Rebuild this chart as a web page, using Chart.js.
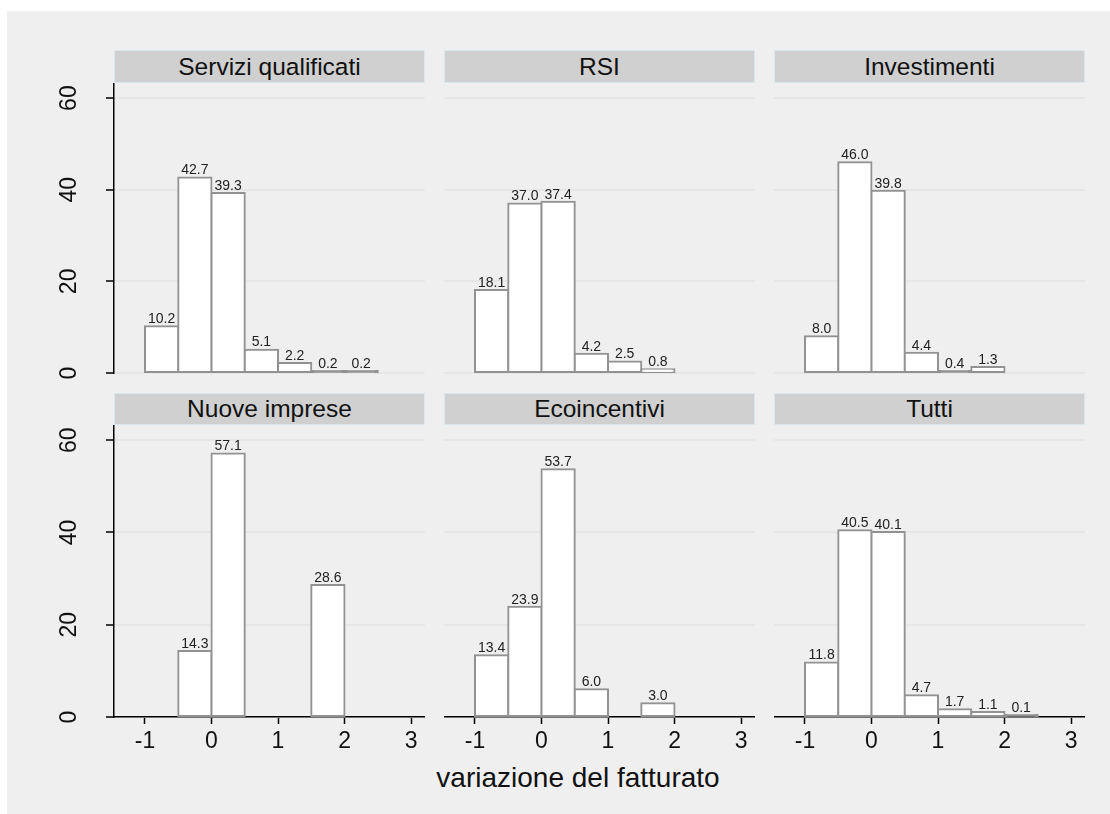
<!DOCTYPE html>
<html>
<head>
<meta charset="utf-8">
<script src="https://cdn.jsdelivr.net/npm/chart.js@4.4.1/dist/chart.umd.min.js"></script>
<style>
  html, body { margin: 0; padding: 0; background: #fff; }
  body { width: 1110px; height: 814px; position: relative; overflow: hidden; font-family: "Liberation Sans", Arial, sans-serif; }
  #bg { position: absolute; left: 7px; top: 11px; right: 0; bottom: 0; background: #efefef; }
  .head { position: absolute; box-sizing: border-box; background: #d0d0d0; border: 1px solid #d9e8ee;
          font-size: 24.5px; color: #111; text-align: center; }
  .panel { position: absolute; }
  #xtitle { position: absolute; left: 378px; width: 400px; top: 762px; text-align: center; font-size: 28px; color: #111; }
</style>
</head>
<body>
<div id="bg"></div>
<div id="xtitle">variazione del fatturato</div>
<script>
// bins (width 0.5) and the percentages shown above each bar
const binCenters = [-0.75, -0.25, 0.25, 0.75, 1.25, 1.75, 2.25];
const panelTitles = ["Servizi qualificati", "RSI", "Investimenti", "Nuove imprese", "Ecoincentivi", "Tutti"];
const serviziQualificati = [10.2, 42.7, 39.3, 5.1, 2.2, 0.2, 0.2];
const rsi = [18.1, 37.0, 37.4, 4.2, 2.5, 0.8, null];
const investimenti = [8.0, 46.0, 39.8, 4.4, 0.4, 1.3, null];
const nuoveImprese = [null, 14.3, 57.1, null, null, 28.6, null];
const ecoincentivi = [13.4, 23.9, 53.7, 6.0, null, 3.0, null];
const tutti = [11.8, 40.5, 40.1, 4.7, 1.7, 1.1, 0.1];
const xTicks = [-1, 0, 1, 2, 3];
const yTicks = [0, 20, 40, 60];

const panelValues = [serviziQualificati, rsi, investimenti, nuoveImprese, ecoincentivi, tutti];

Chart.defaults.font.family = '"Liberation Sans", Arial, sans-serif';

// layout
const colLeft = [114, 444, 774];
const plotW = 311;
const headTop = [50, 393];
const plotTop = [83, 425];
const plotH = [290, 292];
const yAxisW = 74;
const xAxisH = 53;
const rowPad = 16; // room below top row for the "0" label

const outline = "#929292";

// value labels on top of bars
const barLabels = {
    id: "barLabels",
    afterDatasetsDraw(chart) {
        const ctx = chart.ctx;
        const meta = chart.getDatasetMeta(0);
        ctx.save();
        ctx.font = '14px "Liberation Sans", Arial, sans-serif';
        ctx.fillStyle = "#222";
        ctx.textAlign = "center";
        ctx.textBaseline = "bottom";
        meta.data.forEach((bar, i) => {
            const v = chart.data.datasets[0].data[i].y;
            ctx.fillText(v.toFixed(1), bar.x, bar.y);
        });
        ctx.restore();
    }
};

panelValues.forEach((vals, p) => {
    const row = Math.floor(p / 3), col = p % 3;
    const firstCol = col === 0, lastRow = row === 1;

    // strip title
    const head = document.createElement("div");
    head.className = "head";
    head.style.left = colLeft[col] + "px";
    head.style.top = headTop[row] + "px";
    head.style.width = plotW + "px";
    head.style.height = (plotTop[row] - headTop[row]) + "px";
    head.style.lineHeight = (plotTop[row] - headTop[row] - 2) + "px";
    head.textContent = panelTitles[p];
    document.body.appendChild(head);

    const w = plotW + (firstCol ? yAxisW : 0);
    const h = plotH[row] + (lastRow ? xAxisH : rowPad);
    const wrap = document.createElement("div");
    wrap.className = "panel";
    wrap.style.left = (colLeft[col] - (firstCol ? yAxisW : 0)) + "px";
    wrap.style.top = plotTop[row] + "px";
    const cv = document.createElement("canvas");
    cv.width = w; cv.height = h;
    wrap.appendChild(cv);
    document.body.appendChild(wrap);

    const pts = [];
    vals.forEach((v, i) => { if (v !== null) pts.push({ x: binCenters[i], y: v }); });

    new Chart(cv, {
        type: "bar",
        data: {
            datasets: [{
                data: pts,
                // very short bars collapse to a plain outline line
                backgroundColor: c => (c.raw && c.raw.y < 0.6 ? outline : "#ffffff"),
                borderColor: outline,
                borderWidth: 2,
                borderSkipped: false,
                inflateAmount: 1,
                minBarLength: 2,
                barPercentage: 1,
                categoryPercentage: 1
            }]
        },
        options: {
            responsive: false,
            animation: false,
            layout: { padding: { left: 0, right: 0, top: 0, bottom: lastRow ? 0 : rowPad } },
            plugins: { legend: { display: false }, tooltip: { enabled: false } },
            scales: {
                x: {
                    type: "linear",
                    min: -1.466, max: 3.21,
                    offset: false,
                    display: lastRow,
                    afterBuildTicks: s => { s.ticks = xTicks.map(v => ({ value: v })); },
                    afterFit: s => { s.height = lastRow ? xAxisH : 0; s.paddingLeft = 0; s.paddingRight = 0; },
                    grid: { drawOnChartArea: false, drawTicks: true, tickLength: 7, tickColor: "#000", tickWidth: 1.5, offset: false },
                    border: { display: true, color: "#000", width: 1.5 },
                    ticks: { color: "#111", font: { size: 23 }, padding: 4, maxRotation: 0 }
                },
                y: {
                    type: "linear",
                    min: 0, max: 63.3,
                    afterBuildTicks: s => { s.ticks = yTicks.map(v => ({ value: v })); },
                    afterFit: s => { s.width = firstCol ? yAxisW : 0; s.paddingTop = 0; s.paddingBottom = 0; },
                    grid: { color: "#e6e6e6", lineWidth: 2, drawTicks: firstCol, tickLength: 8, tickColor: "#000", tickWidth: 1.5 },
                    border: { display: firstCol, color: "#000", width: 1.5 },
                    ticks: {
                        display: firstCol, color: "#111", font: { size: 23 },
                        minRotation: 90, maxRotation: 90, crossAlign: "center", padding: 24
                    }
                }
            }
        },
        plugins: [barLabels]
    });
});
</script>
</body>
</html>
